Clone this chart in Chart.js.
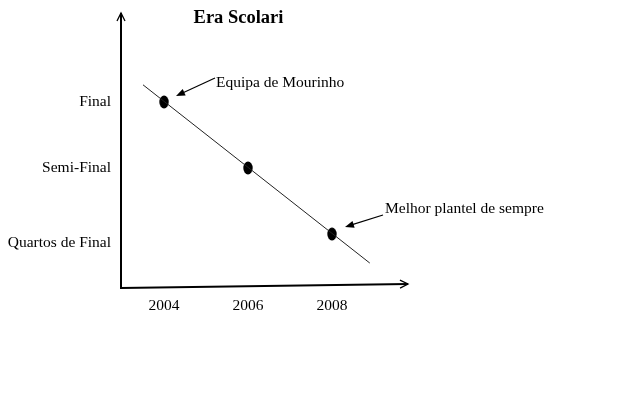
<!DOCTYPE html>
<html><head><meta charset="utf-8">
<script src="https://cdn.jsdelivr.net/npm/chart.js@4"></script>
<style>html,body{margin:0;padding:0;background:#fff}</style>
</head><body>
<canvas id="c" width="640" height="400"></canvas>
<script>
// ---- data ----
const chartTitle = 'Era Scolari';
const years = [2004, 2006, 2008];
const stageValues = [3, 2, 1];
const xTickValues = [2004, 2006, 2008];
const yTickValues = [1, 2, 3];
const yTickLabels = ['Quartos de Final', 'Semi-Final', 'Final'];
const trendX = [2003.5, 2008.9];
const trendY = [3.26, 0.56];
const annotationTexts = ['Equipa de Mourinho', 'Melhor plantel de sempre'];
const annotationPointIndex = [0, 2];

const FONT = '"Liberation Serif", "Times New Roman", serif';

// ellipse point marker
const marker = document.createElement('canvas');
marker.width = 10; marker.height = 14;
{
  const m = marker.getContext('2d');
  m.fillStyle = '#000';
  m.beginPath();
  m.ellipse(5, 7, 4.7, 6.4, 0, 0, Math.PI * 2);
  m.fill();
}

// annotation layout (offsets from the target point, in px)
const annLayout = [
  {tip: [12, -6], tail: [51, -24], text: [52, -15]},
  {tip: [13, -7], tail: [51, -19], text: [53, -21]}
];

function arrowHeadFilled(ctx, x1, y1, x2, y2, len, half) {
  const a = Math.atan2(y2 - y1, x2 - x1);
  ctx.beginPath();
  ctx.moveTo(x2, y2);
  ctx.lineTo(x2 - len * Math.cos(a) + half * Math.sin(a), y2 - len * Math.sin(a) - half * Math.cos(a));
  ctx.lineTo(x2 - len * Math.cos(a) - half * Math.sin(a), y2 - len * Math.sin(a) + half * Math.cos(a));
  ctx.closePath();
  ctx.fill();
}
function arrowHeadOpen(ctx, x1, y1, x2, y2, len, half) {
  const a = Math.atan2(y2 - y1, x2 - x1);
  ctx.beginPath();
  ctx.moveTo(x2 - len * Math.cos(a) + half * Math.sin(a), y2 - len * Math.sin(a) - half * Math.cos(a));
  ctx.lineTo(x2, y2);
  ctx.lineTo(x2 - len * Math.cos(a) - half * Math.sin(a), y2 - len * Math.sin(a) + half * Math.cos(a));
  ctx.stroke();
}

const decor = {
  id: 'decor',
  afterDatasetsDraw(chart) {
    const ctx = chart.ctx, ca = chart.chartArea;
    const xs = chart.scales.x, ys = chart.scales.y;
    ctx.save();
    ctx.strokeStyle = '#000'; ctx.fillStyle = '#000';
    // y axis
    const ax = ca.left + 1;
    ctx.lineWidth = 2;
    ctx.beginPath(); ctx.moveTo(ax, ca.bottom + 1); ctx.lineTo(ax, ca.top); ctx.stroke();
    ctx.lineWidth = 1.3;
    arrowHeadOpen(ctx, ax, ca.bottom, ax, ca.top, 8, 4);
    // x axis (slightly rising, as in the original sketch)
    ctx.lineWidth = 2;
    const x0 = ax, y0 = ca.bottom, x1 = ca.right, y1 = ca.bottom - 4;
    ctx.beginPath(); ctx.moveTo(x0, y0); ctx.lineTo(x1, y1); ctx.stroke();
    ctx.lineWidth = 1.3;
    arrowHeadOpen(ctx, x0, y0, x1, y1, 8, 4);
    // title
    ctx.font = 'bold 18.5px ' + FONT;
    ctx.textAlign = 'center'; ctx.textBaseline = 'alphabetic';
    ctx.fillText(chartTitle, 238.5, 23);
    // annotations
    ctx.font = '15.5px ' + FONT;
    ctx.textAlign = 'left';
    annotationTexts.forEach((t, i) => {
      const k = annotationPointIndex[i];
      const px = xs.getPixelForValue(years[k]);
      const py = ys.getPixelForValue(stageValues[k]);
      const L = annLayout[i];
      const tx = px + L.tip[0], ty = py + L.tip[1];
      const sx = px + L.tail[0], sy = py + L.tail[1];
      ctx.lineWidth = 1.2;
      const a = Math.atan2(ty - sy, tx - sx);
      ctx.beginPath(); ctx.moveTo(sx, sy); ctx.lineTo(tx - 6 * Math.cos(a), ty - 6 * Math.sin(a)); ctx.stroke();
      arrowHeadFilled(ctx, sx, sy, tx, ty, 9, 3.5);
      ctx.fillText(t, px + L.text[0], py + L.text[1]);
    });
    ctx.restore();
  }
};

new Chart(document.getElementById('c'), {
  type: 'scatter',
  data: {
    datasets: [
      {
        type: 'line',
        data: trendX.map((x, i) => ({x, y: trendY[i]})),
        borderColor: '#222', borderWidth: 1, pointRadius: 0, fill: false, tension: 0
      },
      {
        data: years.map((x, i) => ({x, y: stageValues[i]})),
        pointStyle: marker, pointRadius: 6, backgroundColor: '#000', borderColor: '#000'
      }
    ]
  },
  options: {
    responsive: false, animation: false, devicePixelRatio: 1,
    layout: {padding: {top: 13, right: 232, bottom: 0, left: 0}},
    plugins: {legend: {display: false}, title: {display: false}, tooltip: {enabled: false}},
    scales: {
      x: {
        type: 'linear', min: 2002.952, max: 2009.81,
        grid: {display: false, drawTicks: false}, border: {display: false},
        afterBuildTicks: s => { s.ticks = xTickValues.map(v => ({value: v})); },
        afterFit: s => { s.height = 112; s.paddingLeft = 0; s.paddingRight = 0; },
        ticks: {color: '#000', padding: 9, font: {family: FONT, size: 15.5}, callback: v => String(v)}
      },
      y: {
        type: 'linear', min: 0.182, max: 4.348,
        grid: {display: false, drawTicks: false}, border: {display: false},
        afterBuildTicks: s => { s.ticks = yTickValues.map(v => ({value: v})); },
        afterFit: s => { s.width = 120; s.paddingTop = 0; s.paddingBottom = 0; },
        ticks: {
          color: '#000', padding: 9, font: {family: FONT, size: 15.5},
          callback: v => {
            const t = yTickLabels[yTickValues.indexOf(v)];
            return v === yTickValues[0] ? ['', t] : t;
          }
        }
      }
    }
  },
  plugins: [decor]
});
</script>
</body></html>
